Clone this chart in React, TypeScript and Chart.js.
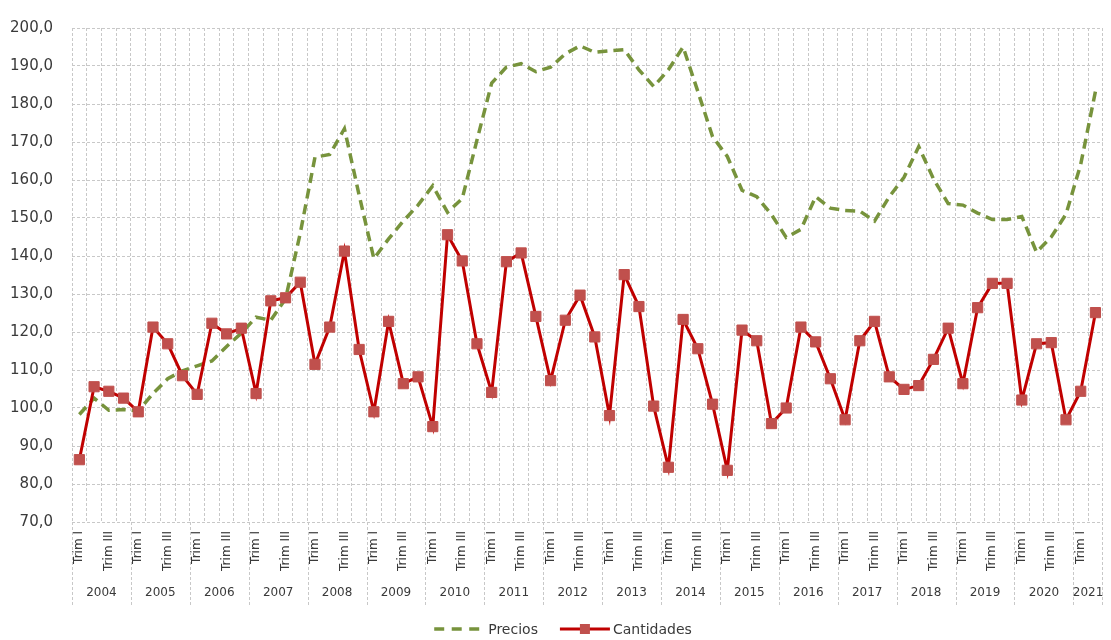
import React, { useEffect, useRef } from "react";
import { Chart, registerables } from "chart.js";

Chart.register(...registerables);

const years = ["2004","2005","2006","2007","2008","2009","2010","2011","2012","2013","2014","2015","2016","2017","2018","2019","2020","2021"];
const quarterNames = ["Trim I", "Trim II", "Trim III", "Trim IV"];
const quartersInLastYear = 2;

const precios = [
  98.3, 102.6, 99.4, 99.6,
  99.2, 103.8, 107.7, 109.8,
  111.1, 112.4, 116.2, 119.7,
  123.9, 123.1, 128.7, 146.0,
  166.0, 166.7, 173.5, 156.0,
  139.3, 144.5, 149.2, 153.4,
  158.5, 151.5, 155.1, 170.5,
  185.5, 189.7, 190.6, 188.5,
  189.7, 193.2, 195.3, 193.6,
  194.0, 194.3, 189.0, 184.6,
  189.0, 195.0, 183.3, 171.4,
  166.2, 157.3, 155.6, 150.9,
  144.9, 147.0, 155.6, 152.6,
  152.0, 151.8, 149.2, 155.6,
  160.7, 168.8, 160.3, 153.8,
  153.4, 151.3, 149.6, 149.6,
  150.4, 141.0, 145.0, 151.0,
  164.1, 183.3,
];

const cantidades = [
  86.4, 105.6, 104.4, 102.6,
  99.0, 121.3, 116.9, 108.5,
  103.6, 122.3, 119.5, 121.0,
  103.8, 128.2, 129.0, 133.1,
  111.5, 121.3, 141.3, 115.4,
  99.0, 122.8, 106.4, 108.2,
  95.1, 145.6, 138.7, 116.9,
  104.1, 138.5, 140.8, 124.1,
  107.2, 123.1, 129.7, 118.7,
  98.0, 135.1, 126.7, 100.5,
  84.4, 123.3, 115.6, 101.0,
  83.6, 120.5, 117.7, 95.9,
  100.0, 121.3, 117.4, 107.7,
  96.9, 117.7, 122.8, 108.2,
  104.9, 105.9, 112.8, 121.0,
  106.4, 126.4, 132.8, 132.8,
  102.1, 116.9, 117.2, 96.9,
  104.4, 125.1,
];

const yMin = 70;
const yMax = 200;
const yStep = 10;

// category table built from years and quarter names
const categories: string[] = [];
const categoryYear: string[] = [];
years.forEach((y, yi) => {
  const n = yi === years.length - 1 ? quartersInLastYear : 4;
  for (let q = 0; q < n; q++) {
    categories.push(quarterNames[q]);
    categoryYear.push(y);
  }
});

const GRID = "#c8c8c8";
const TEXT = "#3a3a3a";
const FONT = "'DejaVu Sans', sans-serif";
const GREEN = "#77933C";
const RED = "#C00000";
const MARKER = "#C0504D";

const yearPlugin = {
  id: "yearGroups",
  afterDraw(chart: any) {
    const ctx = chart.ctx;
    const xs = chart.scales.x;
    const area = chart.chartArea;
    const half = (xs.getPixelForValue(1) - xs.getPixelForValue(0)) / 2;
    ctx.save();
    ctx.strokeStyle = GRID;
    ctx.lineWidth = 1;
    ctx.setLineDash([3, 2]);
    ctx.fillStyle = TEXT;
    ctx.font = `12px ${FONT}`;
    ctx.textAlign = "center";
    ctx.textBaseline = "middle";
    years.forEach((y) => {
      const first = categoryYear.indexOf(y);
      const last = categoryYear.lastIndexOf(y);
      const x0 = xs.getPixelForValue(first) - half;
      const x1 = xs.getPixelForValue(last) + half;
      ctx.beginPath();
      ctx.moveTo(Math.round(x0) + 0.5, area.bottom);
      ctx.lineTo(Math.round(x0) + 0.5, 605);
      ctx.stroke();
      if (last === categories.length - 1) {
        ctx.beginPath();
        ctx.moveTo(Math.round(x1) - 0.5, area.bottom);
        ctx.lineTo(Math.round(x1) - 0.5, 605);
        ctx.stroke();
      }
      ctx.fillText(y, (x0 + x1) / 2, 593);
    });
    ctx.restore();

    // legend
    ctx.save();
    ctx.font = `14px ${FONT}`;
    ctx.textBaseline = "middle";
    ctx.textAlign = "left";
    const t1 = "Precios";
    const t2 = "Cantidades";
    const w1 = ctx.measureText(t1).width;
    const w2 = ctx.measureText(t2).width;
    const s1 = 45, s2 = 50, g = 9, between = 22;
    const total = s1 + g + w1 + between + s2 + 3 + w2;
    const ly = 629;
    let x = 563 - total / 2;
    ctx.strokeStyle = GREEN;
    ctx.lineWidth = 3.5;
    ctx.setLineDash([10, 7.5]);
    ctx.beginPath();
    ctx.moveTo(x, ly);
    ctx.lineTo(x + s1, ly);
    ctx.stroke();
    ctx.setLineDash([]);
    ctx.fillStyle = TEXT;
    ctx.fillText(t1, x + s1 + g, ly + 1);
    x += s1 + g + w1 + between;
    ctx.strokeStyle = RED;
    ctx.lineWidth = 3;
    ctx.beginPath();
    ctx.moveTo(x, ly);
    ctx.lineTo(x + s2, ly);
    ctx.stroke();
    ctx.fillStyle = MARKER;
    ctx.fillRect(x + s2 / 2 - 5, ly - 5, 10, 10);
    ctx.fillStyle = TEXT;
    ctx.fillText(t2, x + s2 + 3, ly + 1);
    ctx.restore();
  },
};

export default function App() {
  const ref = useRef<HTMLCanvasElement | null>(null);

  useEffect(() => {
    if (!ref.current) return;
    const chart = new Chart(ref.current, {
      type: "line",
      data: {
        labels: categories,
        datasets: [
          {
            label: "Precios",
            data: precios,
            borderColor: GREEN,
            backgroundColor: GREEN,
            borderWidth: 3.5,
            borderDash: [10, 6],
            pointRadius: 0,
            pointHoverRadius: 0,
            fill: false,
            tension: 0,
            order: 1,
          },
          {
            label: "Cantidades",
            data: cantidades,
            borderColor: RED,
            backgroundColor: MARKER,
            borderWidth: 3,
            pointStyle: "rect",
            pointRadius: 7.2,
            pointBackgroundColor: MARKER,
            pointBorderColor: MARKER,
            pointBorderWidth: 1,
            fill: false,
            tension: 0,
            order: 0,
          },
        ],
      },
      options: {
        responsive: false,
        animation: false,
        devicePixelRatio: 1,
        layout: { padding: { top: 15, right: 3, left: 0, bottom: 0 } },
        plugins: {
          legend: { display: false },
          tooltip: { enabled: false },
        },
        scales: {
          x: {
            type: "category",
            offset: true,
            grid: { offset: true, color: GRID, lineWidth: 1, drawTicks: false },
            border: { display: false, dash: [3, 2] },
            ticks: {
              autoSkip: false,
              maxRotation: 90,
              minRotation: 90,
              padding: 9,
              color: TEXT,
              font: { family: FONT, size: 12 },
              callback: (_v: any, i: number) => (i % 2 === 0 ? categories[i] : ""),
            },
            afterFit: (s: any) => {
              s.height = 118;
              s.paddingLeft = 0;
              s.paddingRight = 0;
            },
          },
          y: {
            min: yMin,
            max: yMax,
            grid: { color: GRID, lineWidth: 1, drawTicks: false },
            border: { display: false, dash: [3, 2] },
            ticks: {
              stepSize: yStep,
              padding: 19,
              color: TEXT,
              font: { family: FONT, size: 15 },
              callback: (v: any) => Number(v).toFixed(1).replace(".", ","),
            },
            afterFit: (s: any) => {
              s.width = 72;
            },
          },
        },
      },
      plugins: [yearPlugin],
    });
    return () => chart.destroy();
  }, []);

  return (
    <div style={{ position: "absolute", left: 0, top: 0, width: 1111, height: 640, background: "#fff" }}>
      <canvas ref={ref} width={1111} height={640} style={{ width: 1111, height: 640 }} />
    </div>
  );
}
